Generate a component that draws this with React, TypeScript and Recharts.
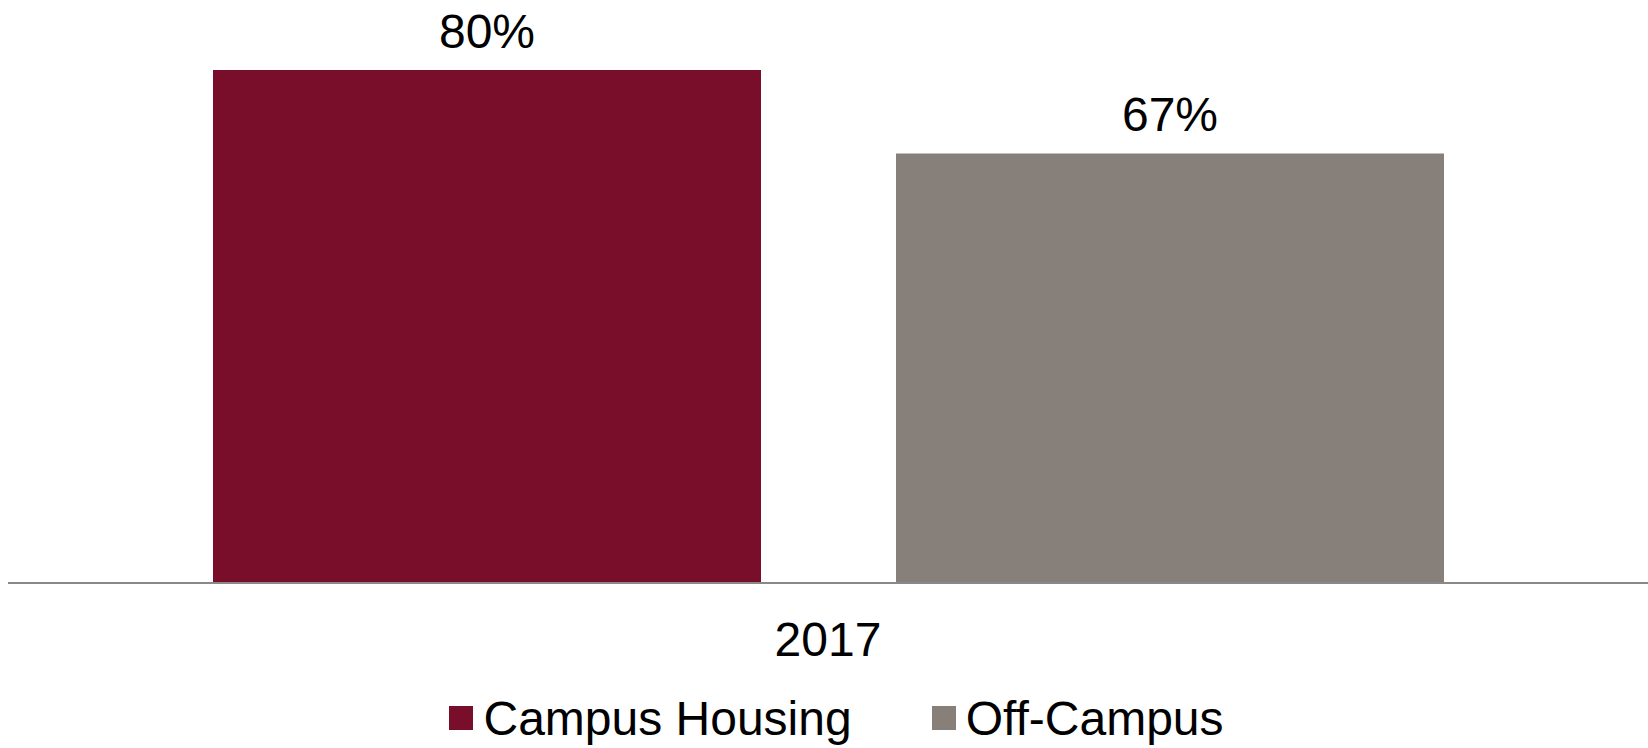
import React from 'react';
import { BarChart, Bar, XAxis, YAxis, Legend, LabelList } from 'recharts';

const categories = ['2017'];
const campusHousing = [80];
const offCampus = [67];
const seriesNames = ['Campus Housing', 'Off-Campus'];
const seriesColors = ['#790E2B', '#877F7A'];

const data = categories.map((c, i) => ({
  year: c,
  campus: campusHousing[i],
  off: offCampus[i],
}));

const FONT = '"Liberation Sans", Arial, Helvetica, sans-serif';

const LegendContent = () => (
  <div
    style={{
      display: 'flex',
      justifyContent: 'center',
      alignItems: 'center',
      height: 56,
      paddingLeft: 17,
      fontFamily: FONT,
      fontSize: 48,
      color: '#000',
      whiteSpace: 'nowrap',
    }}
  >
    {seriesNames.map((n, i) => (
      <div key={n} style={{ display: 'flex', alignItems: 'center', marginLeft: i === 0 ? 0 : 80 }}>
        <span style={{ display: 'inline-block', width: 24, height: 24, background: seriesColors[i], marginRight: 10 }} />
        <span>{n}</span>
      </div>
    ))}
  </div>
);

export default function App() {
  return (
    <div style={{ width: 1648, height: 748, fontFamily: FONT }}>
      <style>{'body{margin:0;overflow:hidden;}'}</style>
      <BarChart
        width={1648}
        height={748}
        data={data}
        margin={{ top: 6, right: 0, left: 8, bottom: 2 }}
        barCategoryGap="12.5%"
        barGap={135}
      >
        <XAxis
          dataKey="year"
          height={107}
          tickLine={false}
          tickSize={6}
          tickMargin={33}
          axisLine={{ stroke: '#898989', strokeWidth: 2 }}
          tick={{ fill: '#000', fontSize: 48, fontFamily: FONT }}
        />
        <YAxis hide domain={[0, 90]} />
        <Legend verticalAlign="bottom" height={56} content={<LegendContent />} />
        <Bar dataKey="campus" name={seriesNames[0]} fill={seriesColors[0]} isAnimationActive={false}>
          <LabelList
            dataKey="campus"
            position="top"
            offset={22}
            formatter={(v: number) => `${v}%`}
            style={{ fill: '#000', fontSize: 48, fontFamily: FONT }}
          />
        </Bar>
        <Bar dataKey="off" name={seriesNames[1]} fill={seriesColors[1]} isAnimationActive={false}>
          <LabelList
            dataKey="off"
            position="top"
            offset={22}
            formatter={(v: number) => `${v}%`}
            style={{ fill: '#000', fontSize: 48, fontFamily: FONT }}
          />
        </Bar>
      </BarChart>
    </div>
  );
}
